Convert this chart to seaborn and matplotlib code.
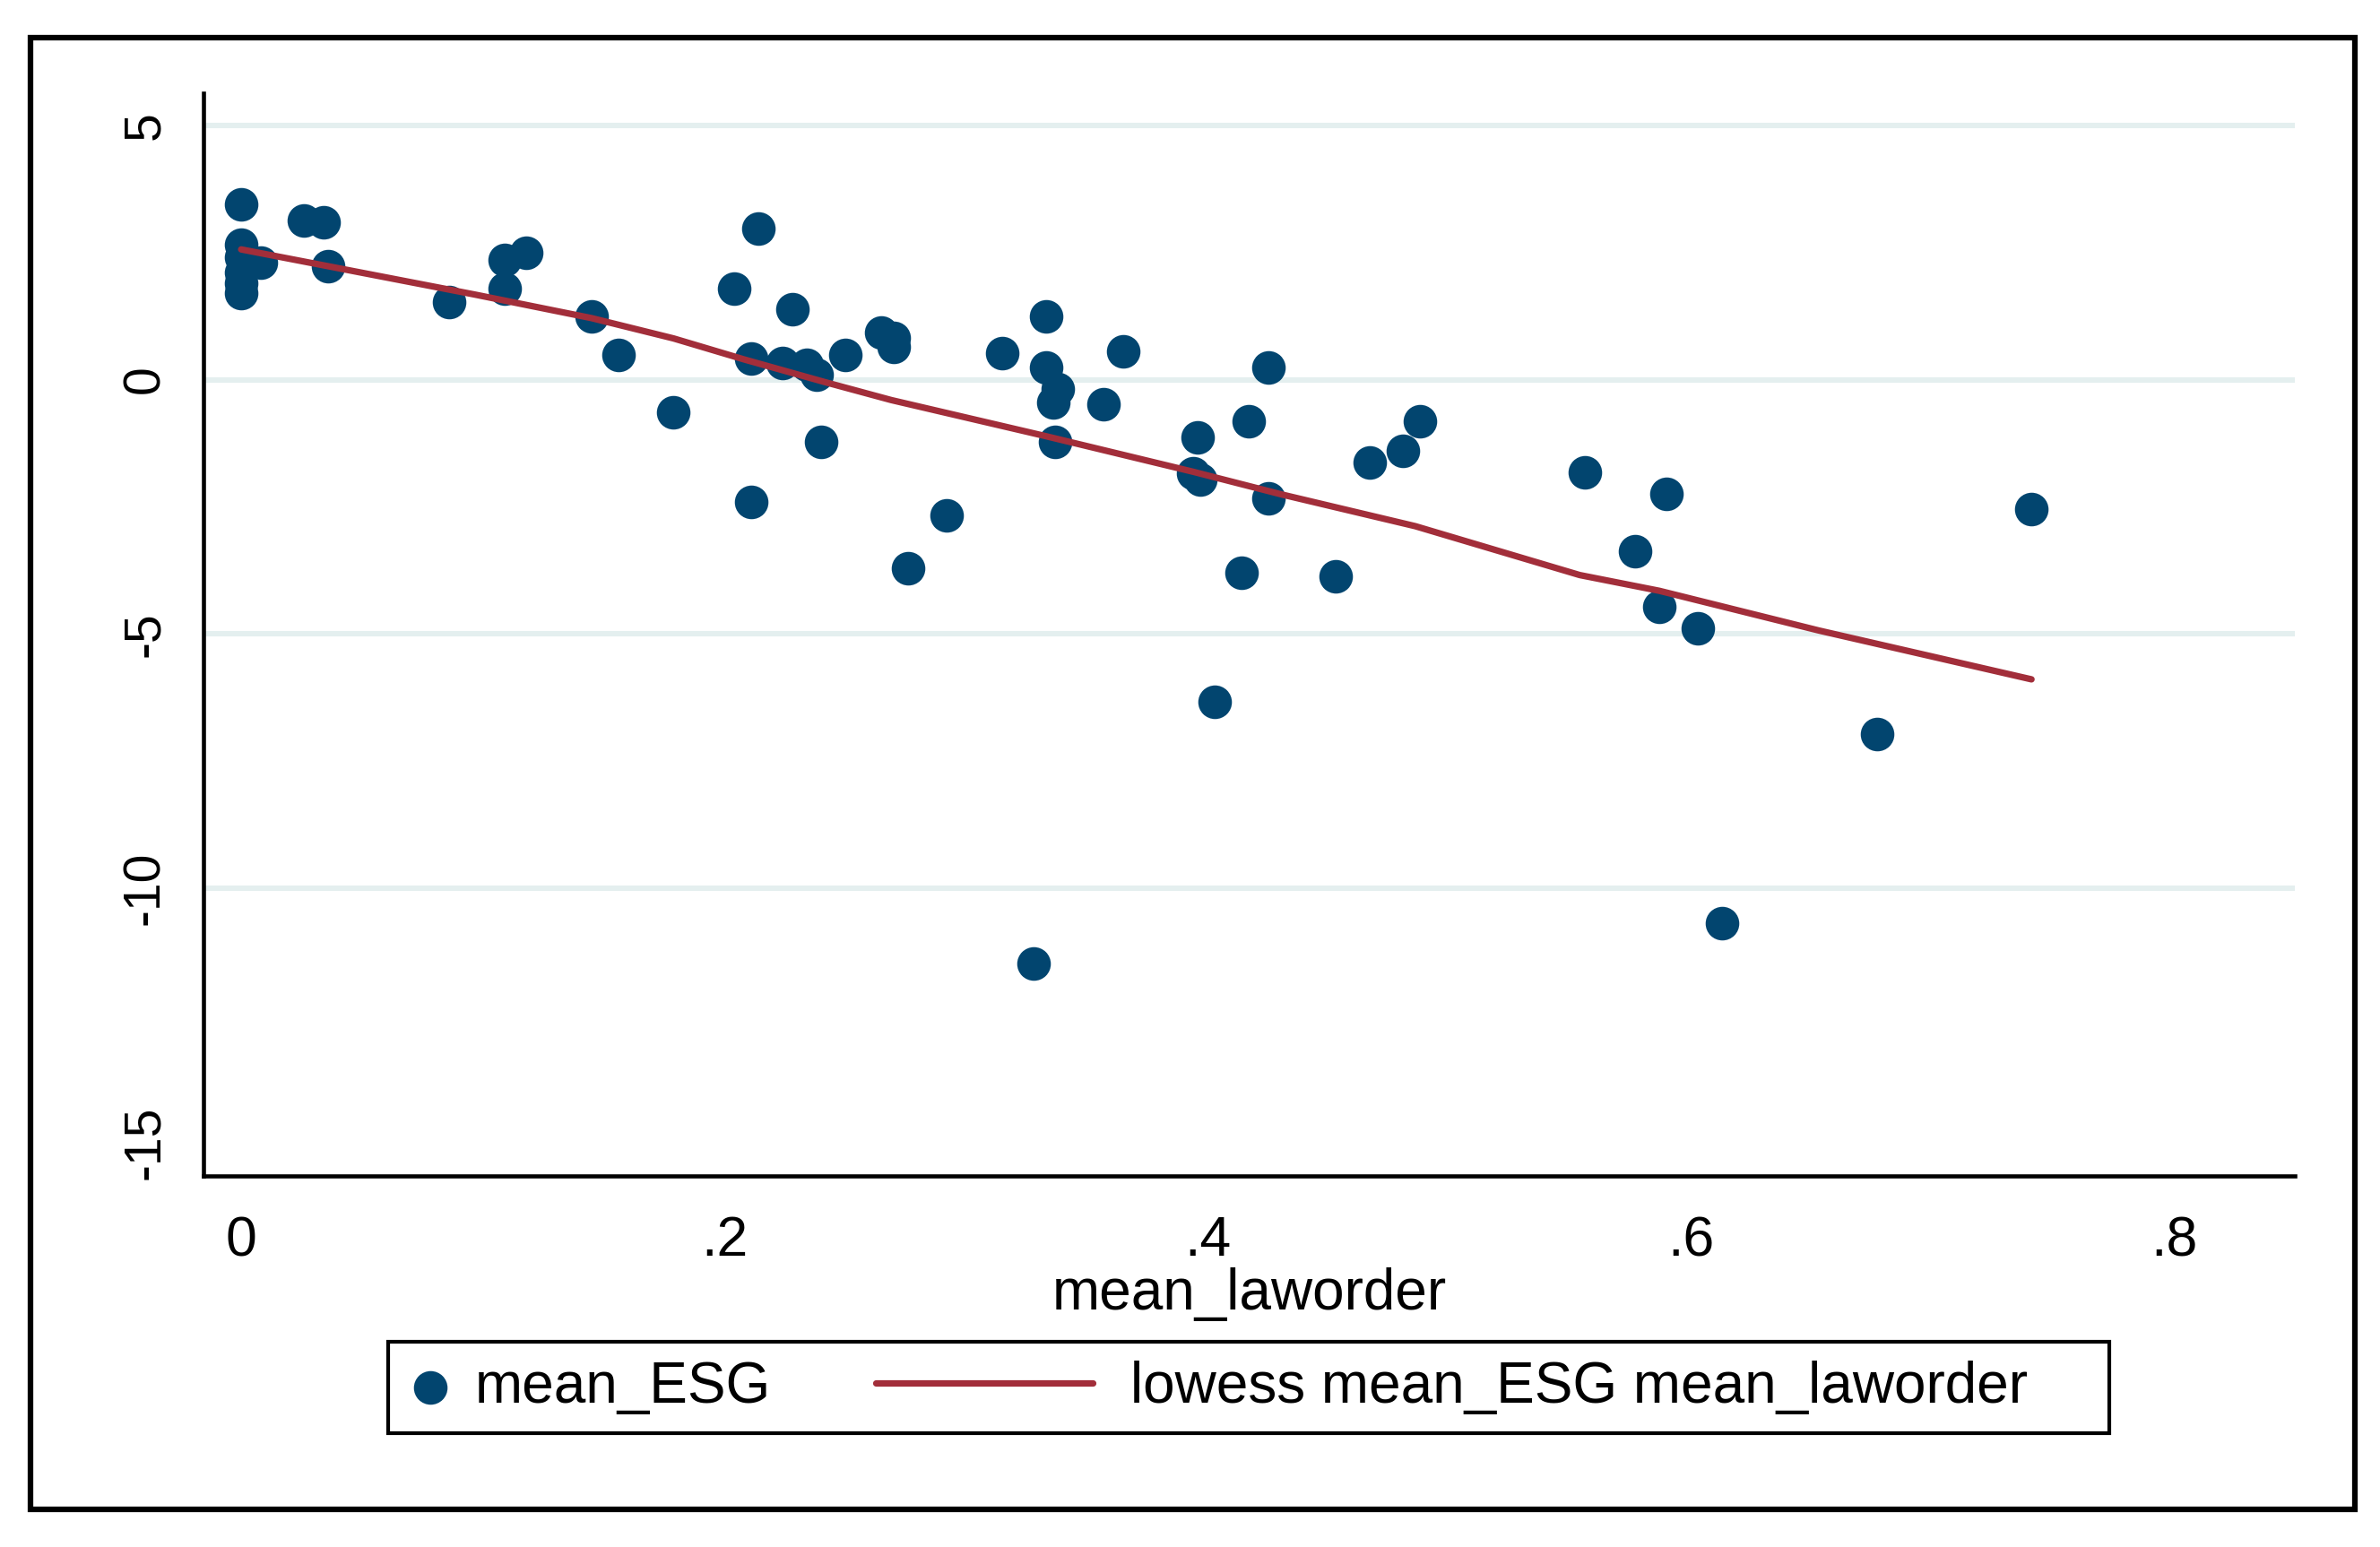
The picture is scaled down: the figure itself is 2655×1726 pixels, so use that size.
import matplotlib
matplotlib.use("Agg")
import matplotlib.pyplot as plt
from matplotlib.lines import Line2D
from matplotlib.patches import Rectangle
from matplotlib.legend_handler import HandlerLine2D
import seaborn as sns

# ── Data ──────────────────────────────────────────────────────────────────────
MEAN_LAWORDER = [0.000, 0.000, 0.000, 0.000, 0.000, 0.000, 0.008, 0.026, 0.034, 0.036,
                 0.086, 0.109, 0.118, 0.109, 0.145, 0.156, 0.179, 0.204, 0.214, 0.211,
                 0.211, 0.228, 0.224, 0.234, 0.238, 0.240, 0.250, 0.265, 0.270, 0.270,
                 0.292, 0.276, 0.315, 0.333, 0.333, 0.338, 0.336, 0.337, 0.357, 0.365,
                 0.396, 0.394, 0.397, 0.417, 0.425, 0.425, 0.414, 0.403, 0.328, 0.467,
                 0.481, 0.488, 0.453, 0.556, 0.590, 0.577, 0.587, 0.603, 0.613, 0.677,
                 0.741]
MEAN_ESG = [3.45, 2.65, 2.40, 2.10, 1.90, 1.70, 2.30, 3.12, 3.09, 2.23,
            1.52, 2.36, 2.50, 1.79, 1.25, 0.48, -0.65, 1.79, 2.97, 0.42,
            -2.41, 1.38, 0.32, 0.30, 0.10, -1.22, 0.49, 0.92, 0.82, 0.65,
            -2.66, -3.70, 0.53, 1.25, 0.24, -0.18, -0.44, -1.23, -0.49, 0.55,
            -1.13, -1.84, -1.96, -0.81, 0.24, -2.34, -3.79, -6.33, -11.48, -1.62,
            -1.40, -0.81, -3.86, -1.82, -2.25, -3.38, -4.47, -4.89, -10.68, -6.97,
            -2.55]

LOWESS_X = [0.000, 0.097, 0.145, 0.179, 0.208, 0.241, 0.269, 0.333,
            0.394, 0.431, 0.486, 0.554, 0.587, 0.653, 0.741]
LOWESS_Y = [2.56, 1.67, 1.21, 0.81, 0.40, -0.04, -0.40, -1.11,
            -1.81, -2.26, -2.88, -3.84, -4.15, -4.93, -5.89]

X_TICKS = [0, 0.2, 0.4, 0.6, 0.8]
X_LABELS = ["0", ".2", ".4", ".6", ".8"]
Y_TICKS = [-15, -10, -5, 0, 5]
Y_LABELS = ["-15", "-10", "-5", "0", "5"]

LABELS = ["mean_ESG", "lowess mean_ESG mean_laworder"]

NAVY = "#02456f"
MAROON = "#a22e3a"
GRID = "#e4efef"
W, H = 2655, 1726


class StataLine(HandlerLine2D):
    """Legend line that reaches back into the column gap, like Stata's key."""
    def create_artists(self, legend, orig_handle, xdescent, ydescent,
                       width, height, fontsize, trans):
        y = height / 2 - ydescent
        seg = Line2D([-xdescent - 3.16 * fontsize, -xdescent + 0.63 * fontsize], [y, y])
        self.update_prop(seg, orig_handle, legend)
        seg.set_transform(trans)
        return [seg]


def main():
    sns.set_style("white")
    plt.rcParams["font.family"] = ["Liberation Sans", "DejaVu Sans"]
    for key in ["text.color", "axes.labelcolor", "xtick.color", "ytick.color"]:
        plt.rcParams[key] = "black"

    fig = plt.figure(figsize=(W / 100, H / 100), dpi=100)
    fig.patch.set_facecolor("white")
    ax = fig.add_axes([227 / W, 1 - 1312 / H, (2560 - 227) / W, (1312 - 104) / H])

    sns.scatterplot(x=MEAN_LAWORDER, y=MEAN_ESG, ax=ax, s=730, color=NAVY,
                    linewidth=0, zorder=3)
    sns.lineplot(x=LOWESS_X, y=LOWESS_Y, ax=ax, color=MAROON, linewidth=5.2,
                 estimator=None, zorder=4)
    dots = ax.collections[0]
    curve = ax.lines[-1]

    # gridlines on the inner y ticks only
    for yv in Y_TICKS[1:]:
        ax.axhline(yv, color=GRID, linewidth=4.4, zorder=1)

    ax.set_xlim(-0.0156, 0.850)
    ax.set_ylim(-15.65, 5.63)
    ax.set_xticks(X_TICKS, labels=X_LABELS)
    ax.set_yticks(Y_TICKS, labels=Y_LABELS)

    for side in ["top", "right"]:
        ax.spines[side].set_visible(False)
    for side in ["left", "bottom"]:
        ax.spines[side].set_linewidth(3.3)
        ax.spines[side].set_color("black")

    ax.tick_params(axis="both", direction="out", length=18, width=3, color="black")
    ax.tick_params(axis="x", labelsize=45, pad=13)
    ax.tick_params(axis="y", labelsize=41, pad=9, labelrotation=90)
    for lbl in ax.get_yticklabels():
        lbl.set_va("center")

    ax.set_xlabel("mean_laworder", fontsize=46, labelpad=0)
    ax.set_ylabel("")

    fig.legend([dots, curve], LABELS, loc="center left",
               bbox_to_anchor=(433 / W, 1 - 1548 / H), bbox_transform=fig.transFigure,
               ncol=2, frameon=False, fontsize=46, handlelength=1.0,
               handletextpad=0.28, columnspacing=4.99, borderpad=0.24,
               borderaxespad=0, scatterpoints=1, handler_map={curve: StataLine()})

    # legend box and outer graph frame
    fig.add_artist(Rectangle((433 / W, 1 - 1599 / H), (2353 - 433) / W, (1599 - 1497) / H,
                             transform=fig.transFigure, fill=False, lw=3, ec="black"))
    fig.add_artist(Rectangle((34 / W, 1 - 1684 / H), (2627 - 34) / W, (1684 - 42) / H,
                             transform=fig.transFigure, fill=False, lw=4.5, ec="black"))

    fig.savefig("out.png", dpi=100, facecolor="white")


if __name__ == "__main__":
    main()
